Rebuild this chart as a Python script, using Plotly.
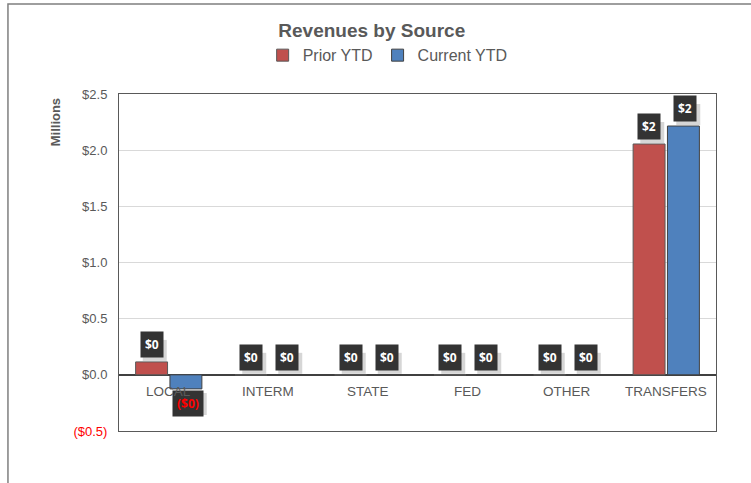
import plotly.graph_objects as go

# Revenue by source, in millions of dollars
sources = ["LOCAL", "INTERM", "STATE", "FED", "OTHER", "TRANSFERS"]
prior_ytd = [0.115, 0.0, 0.0, 0.0, 0.0, 2.055]
current_ytd = [-0.125, 0.0, 0.0, 0.0, 0.0, 2.215]
tick_vals = [-0.5, 0.0, 0.5, 1.0, 1.5, 2.0, 2.5]
tick_text = ["<span style='color:#FF0000'>($0.5)</span>", "$0.0", "$0.5",
             "$1.0", "$1.5", "$2.0", "$2.5"]

RED = "#C0504D"
BLUE = "#4F81BD"
GREY_TEXT = "#595959"

fig = go.Figure()
fig.add_trace(go.Bar(name="Prior YTD", x=sources, y=prior_ytd,
                     marker=dict(color=RED, line=dict(color="#595959", width=1))))
fig.add_trace(go.Bar(name="Current YTD", x=sources, y=current_ytd,
                     marker=dict(color=BLUE, line=dict(color="#404040", width=1))))


def money_label(v):
    r = round(v)
    return f"(${abs(r)})" if v < 0 else f"${r}"


annotations = []
shapes = []
for series, shift in ((prior_ytd, -17), (current_ytd, 19)):
    for cat, v in zip(sources, series):
        neg = v < 0
        txt = money_label(v)
        color = "#FF0000" if neg else "white"
        yanchor = "top" if neg else "bottom"
        yshift = -1 if neg else 4
        half_w = 16 if neg else 12
        # soft drop shadow behind the value box, sized in pixels
        if neg:
            y0, y1 = yshift - 22 - 3, yshift - 3
        else:
            y0, y1 = yshift - 3, yshift + 21 - 3
        shapes.append(dict(
            type="rect", xref="x", yref="y", xsizemode="pixel", ysizemode="pixel",
            xanchor=cat, yanchor=v,
            x0=shift - half_w + 3, x1=shift + half_w + 3, y0=y0, y1=y1,
            fillcolor="rgba(0,0,0,0.16)", line=dict(width=0), layer="above"))
        annotations.append(dict(
            x=cat, y=v, xref="x", yref="y", text=txt, showarrow=False,
            xshift=shift, yshift=yshift, yanchor=yanchor,
            bgcolor="#333333", borderpad=4,
            font=dict(family="Open Sans", size=12, color=color, weight="bold")))

# category labels sit on the zero line
for cat in sources:
    annotations.append(dict(
        x=cat, y=0, xref="x", yref="y", text=cat, showarrow=False,
        yanchor="top", yshift=-7,
        font=dict(family="Liberation Sans", size=13.5, color=GREY_TEXT)))

annotations.append(dict(
    x=-0.105, y=0.917, xref="paper", yref="paper", text="<b>Millions</b>",
    showarrow=False, textangle=-90, xanchor="center", yanchor="middle",
    font=dict(family="Liberation Sans", size=13, color=GREY_TEXT)))

shapes.append(dict(type="rect", xref="paper", yref="paper",
                   x0=-0.186, x1=1.08, y0=-0.2, y1=1.267,
                   line=dict(color="#7F7F7F", width=1.5), fillcolor="rgba(0,0,0,0)",
                   layer="below"))

fig.update_layout(
    width=751, height=483,
    margin=dict(l=119, r=35, t=94, b=52),
    paper_bgcolor="white", plot_bgcolor="white",
    barmode="group", bargap=0.31, bargroupgap=0.07,
    title=dict(text="<b>Revenues by Source</b>", x=0.495, xanchor="center",
               y=0.938, yanchor="middle",
               font=dict(family="Liberation Sans", size=19, color=GREY_TEXT)),
    legend=dict(orientation="h", x=0.45, xanchor="center", y=1.115, yanchor="middle",
                font=dict(family="Liberation Sans", size=16, color=GREY_TEXT),
                itemwidth=30, traceorder="normal"),
    showlegend=True,
    xaxis=dict(showticklabels=False, showgrid=False, zeroline=False,
               showline=True, linecolor="#595959", mirror=True, ticks=""),
    yaxis=dict(range=[-0.5, 2.5], tickvals=tick_vals, ticktext=tick_text,
               showgrid=True, gridcolor="#D9D9D9", gridwidth=1,
               zeroline=True, zerolinecolor="#404040", zerolinewidth=1.5,
               showline=True, linecolor="#595959", mirror=True,
               tickfont=dict(family="Liberation Sans", size=13, color=GREY_TEXT),
               ticks="", ticklabelstandoff=8),
    annotations=annotations,
    shapes=shapes,
)

fig.write_html("out.html")
